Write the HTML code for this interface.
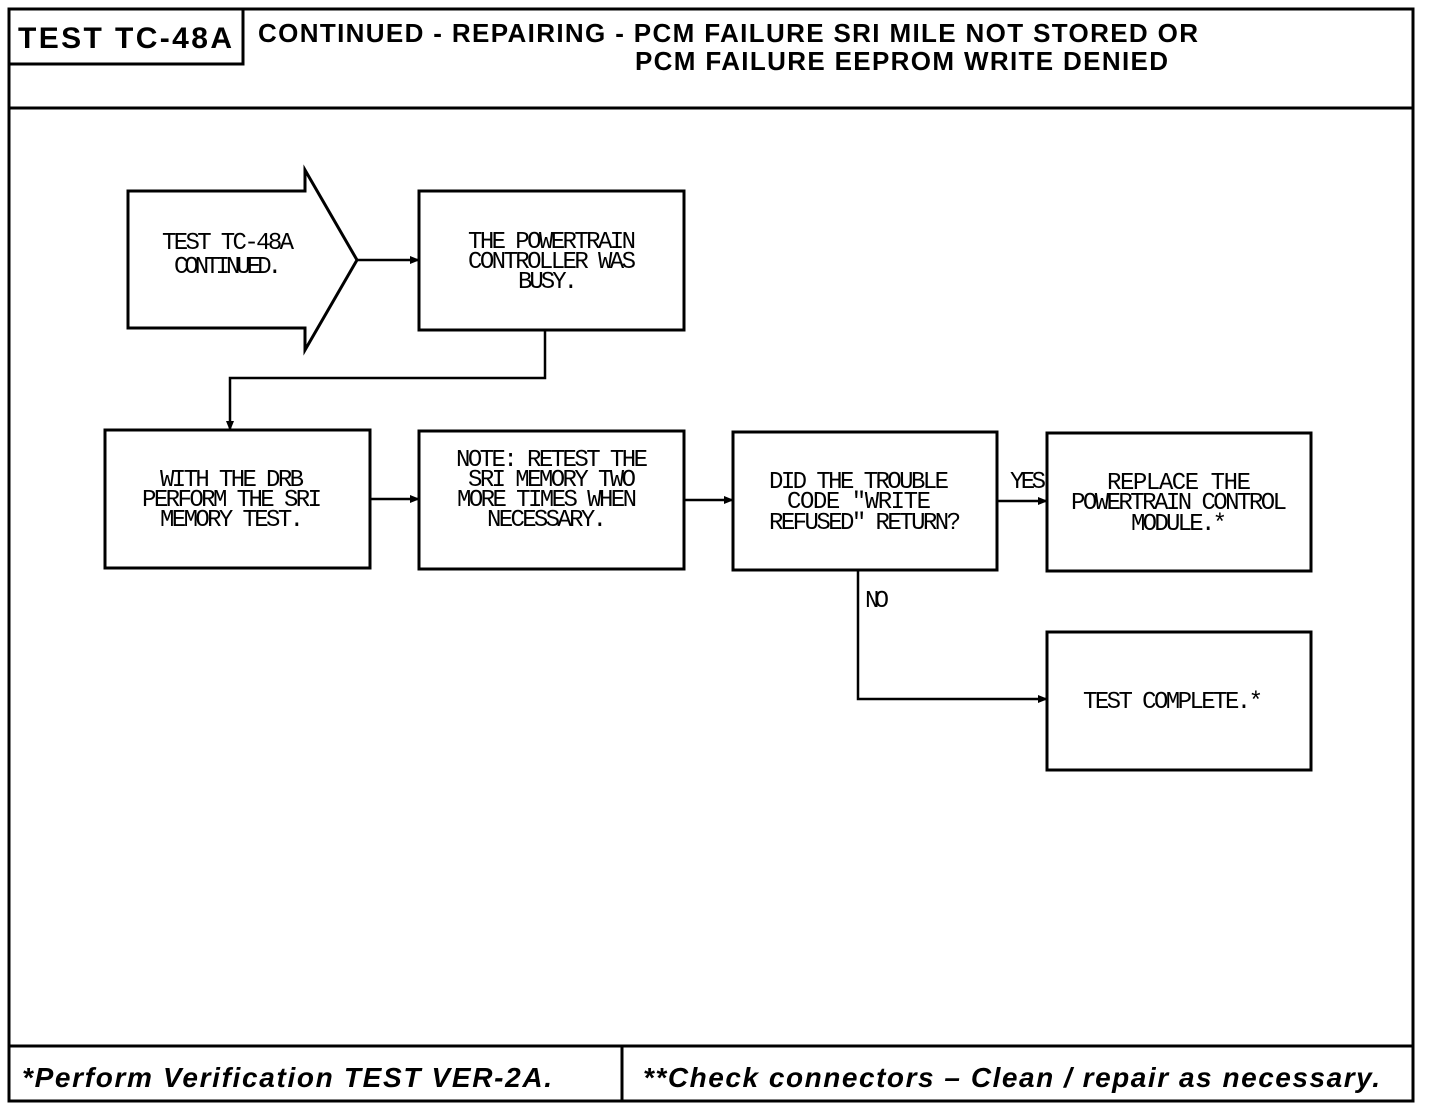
<!DOCTYPE html>
<html><head><meta charset="utf-8"><style>
html,body{margin:0;padding:0;background:#fff;}
svg{display:block;}
.m{font-family:"Liberation Mono",monospace;font-size:24px;text-anchor:middle;fill:#000;}
.h{font-family:"Liberation Sans",sans-serif;font-weight:bold;fill:#000;}
</style></head><body>
<svg width="1440" height="1114" viewBox="0 0 1440 1114" xmlns="http://www.w3.org/2000/svg">
<defs><marker id="a" markerWidth="10" markerHeight="8" refX="9" refY="4" orient="auto" markerUnits="userSpaceOnUse"><path d="M0,0 L10,4 L0,8 z" fill="#000"/></marker></defs>
<g fill="none" stroke="#000" stroke-width="3">
<rect x="9" y="9" width="1404" height="1092"/>
<line x1="9" y1="108" x2="1413" y2="108"/>
<line x1="9" y1="1046" x2="1413" y2="1046"/>
<line x1="622" y1="1046" x2="622" y2="1101"/>
<polyline points="9,64 243,64 243,9"/>
<polygon points="128,191 305,191 305,170 357,260 305,350 305,328 128,328"/>
<rect x="419" y="191" width="265" height="139"/>
<rect x="105" y="430" width="265" height="138"/>
<rect x="419" y="431" width="265" height="138"/>
<rect x="733" y="432" width="264" height="138"/>
<rect x="1047" y="433" width="264" height="138"/>
<rect x="1047" y="632" width="264" height="138"/>
</g>
<g fill="none" stroke="#000" stroke-width="2.5" marker-end="url(#a)">
<line x1="357" y1="260" x2="419" y2="260"/>
<polyline points="545,330 545,378 230,378 230,430"/>
<line x1="370" y1="499" x2="419" y2="499"/>
<line x1="684" y1="500" x2="733" y2="500"/>
<line x1="997" y1="501" x2="1047" y2="501"/>
<polyline points="858,570 858,699 1047,699"/>
</g>
<text class="h" x="18" y="48" font-size="30" textLength="214">TEST TC-48A</text>
<text class="h" x="258" y="42" font-size="26" textLength="940">CONTINUED - REPAIRING - PCM FAILURE SRI MILE NOT STORED OR</text>
<text class="h" x="635" y="70" font-size="26" textLength="533">PCM FAILURE EEPROM WRITE DENIED</text>
<text class="h" x="22" y="1087" font-size="28" font-style="italic" textLength="530">*Perform Verification TEST VER-2A.</text>
<text class="h" x="643" y="1087" font-size="28" font-style="italic" textLength="737">**Check connectors – Clean / repair as necessary.</text>
<g class="m">
<text x="228" y="249" textLength="132">TEST TC-48A</text>
<text x="228" y="273" textLength="108">CONTINUED.</text>
<text x="552" y="248" textLength="168">THE POWERTRAIN</text>
<text x="552" y="268" textLength="168">CONTROLLER WAS</text>
<text x="548" y="288" textLength="60">BUSY.</text>
<text x="232" y="486" textLength="144">WITH THE DRB</text>
<text x="232" y="506" textLength="180">PERFORM THE SRI</text>
<text x="232" y="526" textLength="144">MEMORY TEST.</text>
<text x="552" y="466" textLength="192">NOTE: RETEST THE</text>
<text x="552" y="486" textLength="168">SRI MEMORY TWO</text>
<text x="547" y="506" textLength="180">MORE TIMES WHEN</text>
<text x="547" y="526" textLength="120">NECESSARY.</text>
<text x="859" y="488" textLength="180">DID THE TROUBLE</text>
<text x="859" y="508" textLength="144">CODE "WRITE</text>
<text x="865" y="529" textLength="192">REFUSED" RETURN?</text>
<text x="1179" y="489" textLength="144">REPLACE THE</text>
<text x="1179" y="509" textLength="216">POWERTRAIN CONTROL</text>
<text x="1179" y="530" textLength="96">MODULE.*</text>
<text x="1173" y="708" textLength="180">TEST COMPLETE.*</text>
<text x="1028" y="488" textLength="36">YES</text>
<text x="877" y="607" textLength="24">NO</text>
</g>
</svg>
</body></html>
